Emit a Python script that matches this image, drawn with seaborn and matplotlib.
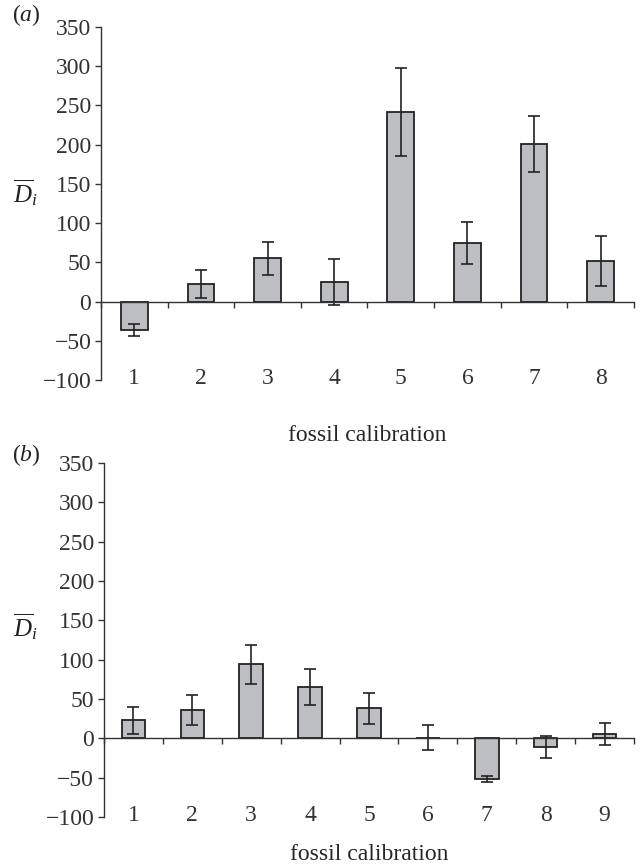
import numpy as np
import pandas as pd
import seaborn as sns
import matplotlib.pyplot as plt

# values
cal_a = ["1", "2", "3", "4", "5", "6", "7", "8"]
d_a = [-36, 22, 55, 25, 242, 75, 201, 52]
err_a = [7.5, 18, 21.5, 29.5, 56, 27, 36, 32]

cal_b = ["1", "2", "3", "4", "5", "6", "7", "8", "9"]
d_b = [23, 36, 94, 65, 38, 1, -52, -11, 5]
err_b = [17, 19.5, 25, 23, 19.5, 16, 3.5, 14, 14]

yticks = [-100, -50, 0, 50, 100, 150, 200, 250, 300, 350]

FS = 17

sns.set_style("ticks")
plt.rcParams.update({
    "font.family": ["Liberation Serif", "DejaVu Serif"],
    "font.size": FS,
    "mathtext.fontset": "custom",
    "mathtext.rm": "Liberation Serif",
    "mathtext.it": "Liberation Serif:italic",
    "axes.edgecolor": "#333333",
    "axes.linewidth": 1.0,
    "xtick.color": "#333333",
    "ytick.color": "#333333",
    "text.color": "#222222",
})

fig = plt.figure(figsize=(6.41, 8.68), dpi=100)
ax_a = fig.add_axes([0.1576, 0.5622, 0.989 - 0.1576, 0.9689 - 0.5622])
ax_b = fig.add_axes([0.1622, 0.0588, 0.989 - 0.1622, 0.4666 - 0.0588])


def panel(ax, cats, vals, errs, tag, tag_y, xpad):
    df = pd.DataFrame({"cal": cats, "D": vals, "err": errs})
    sns.barplot(data=df, x="cal", y="D", color="#bdbec2", edgecolor="#222222",
                linewidth=1.3, width=0.4, saturation=1, errorbar=None, ax=ax)
    pos = np.arange(len(cats))
    ax.errorbar(pos, df["D"], yerr=df["err"], fmt="none", ecolor="#222222",
                elinewidth=1.2, capsize=4, capthick=1.2)
    n = len(cats)
    ax.set_xlim(-0.5, n - 0.5)
    ax.set_ylim(-100, 350)
    ax.set_yticks(yticks)
    ax.tick_params(axis="y", direction="out", length=4, width=1, labelsize=FS, pad=3)
    # zero line with boundary ticks
    ax.spines["bottom"].set_position(("data", 0))
    ax.spines["top"].set_visible(False)
    ax.spines["right"].set_visible(False)
    ax.set_xticks(np.arange(n + 1) - 0.5)
    ax.tick_params(axis="x", direction="out", length=4, width=1, labelbottom=False)
    ax.set_xlabel("")
    ax.set_ylabel("")
    # category labels near the bottom
    sec = ax.secondary_xaxis(0.035)
    sec.set_xticks(pos)
    sec.set_xticklabels(cats)
    sec.tick_params(length=0, pad=0, labelsize=FS)
    sec.spines["bottom"].set_visible(False)
    sec.set_xlabel("fossil calibration", fontsize=FS, labelpad=xpad)
    fig.text(0.041, tag_y, tag, fontsize=FS, ha="center", va="center")


panel(ax_a, cal_a, d_a, err_a, r"($a$)", 0.983, 26)
panel(ax_b, cal_b, d_b, err_b, r"($b$)", 0.476, 13.5)

fig.text(0.04, 1 - 193 / 868, r"$\overline{D}_i$", fontsize=18, ha="center", va="center")
fig.text(0.04, 1 - 627 / 868, r"$\overline{D}_i$", fontsize=18, ha="center", va="center")

plt.savefig("out.png", dpi=100)
